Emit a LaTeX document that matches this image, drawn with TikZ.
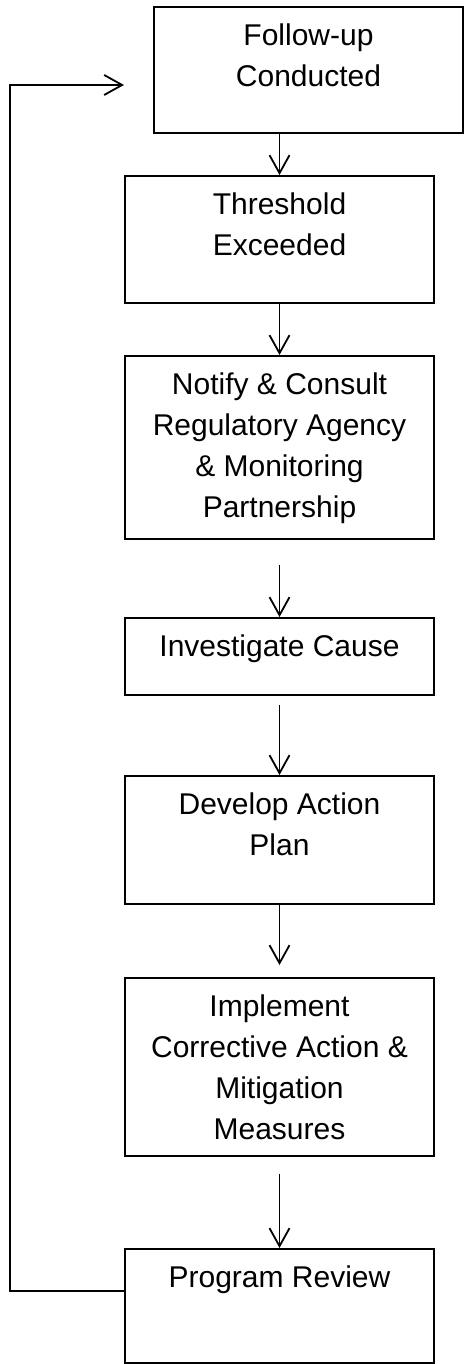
\documentclass[tikz,border=0pt]{standalone}
\usepackage{fontspec}
\setmainfont{Liberation Sans}
\usepackage{tikz}
\usetikzlibrary{arrows.meta, positioning}

\tikzset{
  stage/.style={draw, line width=0.9pt, inner sep=0pt, anchor=north},
  flow/.style={line width=0.9pt, -{Straight Barb[length=9pt,width=10pt]}}
}
\newcommand{\stagetext}[2]{\parbox[t][#1][t]{154.5pt}{\centering\rule{0pt}{19.5pt}#2}}

\begin{document}
\begin{tikzpicture}[x=0.5pt,y=-0.5pt,font=\fontsize{15}{20.5}\selectfont]
\useasboundingbox (0,0) rectangle (466,1364);
\node [stage](followup) at (308.5,6) {\stagetext{63pt}{Follow-up\\Conducted}};
\node [stage](threshold) at (279.5,175) {\stagetext{63.5pt}{Threshold\\Exceeded}};
\node [stage](notify) at (279.5,355) {\stagetext{91.5pt}{Notify \& Consult\\Regulatory Agency\\\& Monitoring\\Partnership}};
\node [stage](investigate) at (279.5,617) {\stagetext{38.5pt}{Investigate Cause}};
\node [stage](develop) at (279.5,775) {\stagetext{64pt}{Develop Action\\Plan}};
\node [stage](implement) at (279.5,977) {\stagetext{89pt}{Implement\\Corrective Action \&\\Mitigation\\Measures}};
\node [stage](review) at (279.5,1248) {\stagetext{57pt}{Program Review}};
\coordinate (loopend) at (124,85);
\draw [flow](followup.south -| threshold.north) -- (threshold.north);
\draw [flow](threshold) -- (notify);
\draw [flow,shorten <=12.5pt](notify) -- (investigate);
\draw [flow,shorten <=4.5pt](investigate) -- (develop);
\draw [flow,shorten >=6pt](develop) -- (implement);
\draw [flow,shorten <=8.5pt](implement) -- (review);
\draw [flow]([yshift=-21.5pt]review.north west) -| (loopend -| 10,0) -- (loopend);
\end{tikzpicture}
\end{document}
